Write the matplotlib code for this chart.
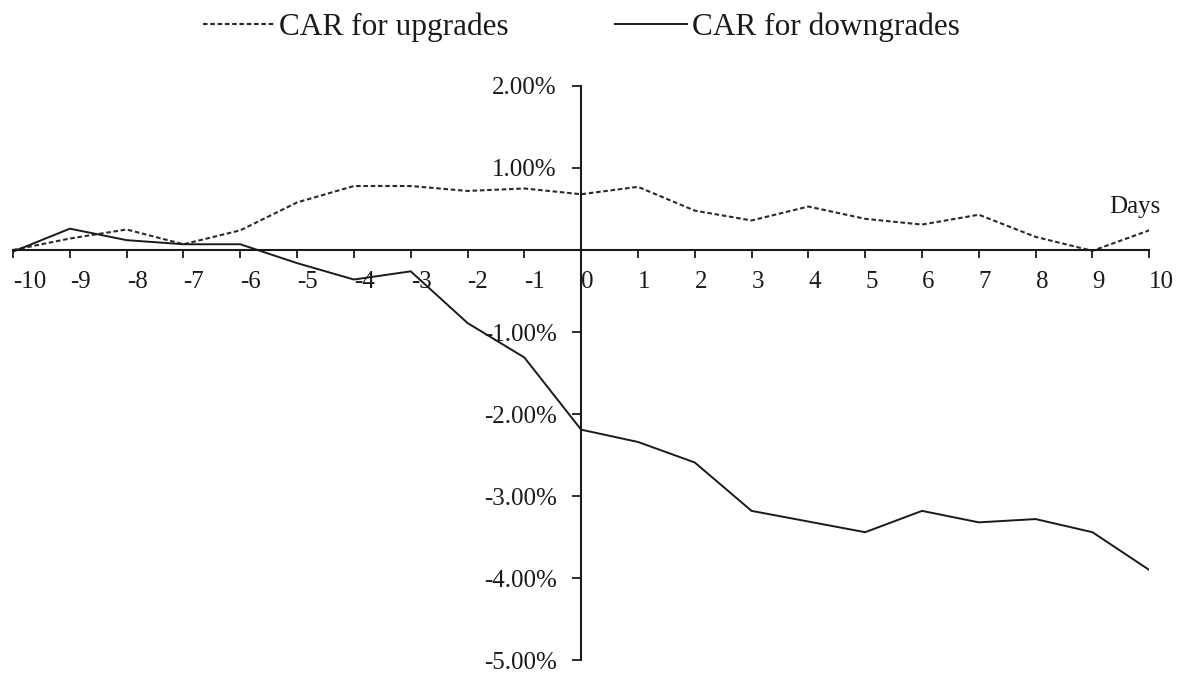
import matplotlib.pyplot as plt

days = list(range(-10, 11))
car_upgrades = [0.00, 0.14, 0.25, 0.07, 0.24, 0.58, 0.78, 0.78, 0.72, 0.75, 0.68,
                0.77, 0.48, 0.36, 0.53, 0.38, 0.31, 0.43, 0.16, -0.01, 0.24]
car_downgrades = [-0.02, 0.26, 0.12, 0.07, 0.07, -0.16, -0.36, -0.26, -0.89, -1.31, -2.19,
                  -2.34, -2.59, -3.18, -3.31, -3.44, -3.18, -3.32, -3.28, -3.44, -3.90]
y_ticks = [-5, -4, -3, -2, -1, 1, 2]
y_labels = ["-5.00%", "-4.00%", "-3.00%", "-2.00%", "-1.00%", "1.00%", "2.00%"]

plt.rcParams['font.family'] = ['Liberation Serif', 'DejaVu Serif']
ink = '#1a1a1a'

fig = plt.figure(figsize=(11.86, 6.82), dpi=100)
ax = fig.add_axes([0.011, 0.032, 0.958, 0.842])

ax.plot(days, car_upgrades, color='#2a2a2a', lw=1.5, linestyle=(0, (2.2, 1.3)),
        label='CAR for upgrades')
ax.plot(days, car_downgrades, color=ink, lw=1.4, label='CAR for downgrades')

ax.set_xlim(-10, 10)
ax.set_ylim(-5, 2)

ax.spines['left'].set_position(('data', 0))
ax.spines['bottom'].set_position(('data', 0))
ax.spines['top'].set_visible(False)
ax.spines['right'].set_visible(False)
for s in ('left', 'bottom'):
    ax.spines[s].set_linewidth(1.5)
    ax.spines[s].set_color(ink)

ax.set_xticks(days)
ax.set_xticklabels([str(d) for d in days], fontsize=18, color=ink)
for lab in ax.get_xticklabels():
    lab.set_horizontalalignment('left')
ax.tick_params(axis='x', direction='out', length=6, width=1.3, pad=9, color=ink)

ax.set_yticks(y_ticks)
ax.set_yticklabels(y_labels, fontsize=18, color=ink)
ax.tick_params(axis='y', direction='out', length=6.5, width=1.3, pad=11, color=ink)

ax.text(9.74, 0.53, 'Days', fontsize=18, color=ink, ha='center', va='center')

fig.legend(loc='center', bbox_to_anchor=(0.49, 0.96), ncol=2, frameon=False,
           fontsize=22.5, handlelength=2.3, handletextpad=0.15, columnspacing=3.4,
           labelcolor=ink)

plt.savefig('out.png', dpi=100)
